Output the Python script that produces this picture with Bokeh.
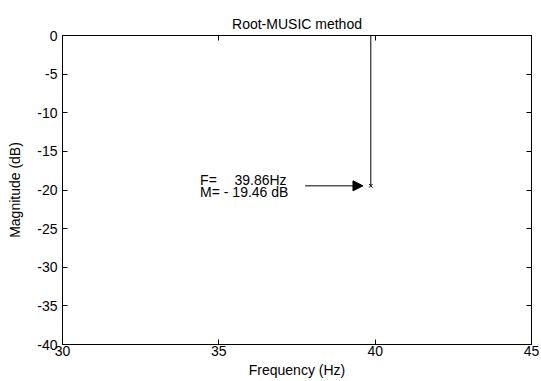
from bokeh.plotting import figure
from bokeh.models import (LinearAxis, FixedTicker, Range1d, Label, Arrow,
                          NormalHead, ColumnDataSource)
from bokeh.embed import file_html
from bokeh.resources import INLINE

# ---- data ----
peak_freq = [39.86]
peak_mag = [-19.46]
x_ticks = [30, 35, 40, 45]
y_ticks = [0, -5, -10, -15, -20, -25, -30, -35, -40]
x_tick_labels = ["30", "35", "40", "45"]
y_tick_labels = ["0", "-5", "-10", "-15", "-20", "-25", "-30", "-35", "-40"]
title_text = "Root-MUSIC method"
x_label = "Frequency (Hz)"
y_label = "Magnitude (dB)"
ann_f = ["F=", "39.86Hz"]
ann_m = "M= - 19.46 dB"

FONT = "Liberation Sans"

p = figure(width=541, height=381, output_backend="svg", toolbar_location=None,
           x_range=Range1d(30, 45), y_range=Range1d(-40, 0),
           min_border_left=62, min_border_right=10, min_border_top=35,
           min_border_bottom=37, title=title_text)

p.title.align = "center"
p.title.text_font = FONT
p.title.text_font_size = "14px"
p.title.text_font_style = "normal"
p.title.text_color = "black"
p.title.standoff = 7

p.xgrid.visible = False
p.ygrid.visible = False
p.outline_line_color = "black"
p.outline_line_width = 1
p.background_fill_color = "white"
p.border_fill_color = "white"


def style_axis(ax, ticks, labels, show_labels=True):
    ax.ticker = FixedTicker(ticks=ticks)
    ax.major_tick_in = 5
    ax.major_tick_out = 0
    ax.minor_tick_in = 0
    ax.minor_tick_out = 0
    ax.axis_line_color = "black"
    ax.major_tick_line_color = "black"
    ax.major_label_text_font = FONT
    ax.major_label_text_color = "black"
    if show_labels:
        ax.major_label_overrides = {t: l for t, l in zip(ticks, labels)}
        ax.major_label_text_font_size = "14px"
    else:
        ax.major_label_overrides = {t: "" for t in ticks}
        ax.major_label_text_font_size = "1px"
        ax.major_label_standoff = 0


xa = p.xaxis[0]
style_axis(xa, x_ticks, x_tick_labels)
xa.major_label_standoff = 1
xa.axis_label = x_label
xa.axis_label_text_font = FONT
xa.axis_label_text_font_size = "14px"
xa.axis_label_text_font_style = "normal"
xa.axis_label_text_color = "black"
xa.axis_label_standoff = 3

ya = p.yaxis[0]
style_axis(ya, y_ticks, y_tick_labels)
ya.major_label_standoff = 5
ya.axis_label = y_label
ya.axis_label_text_font = FONT
ya.axis_label_text_font_size = "14px"
ya.axis_label_text_font_style = "normal"
ya.axis_label_text_color = "black"
ya.axis_label_standoff = 11

top_ax = LinearAxis()
style_axis(top_ax, x_ticks, x_tick_labels, show_labels=False)
p.add_layout(top_ax, "above")
right_ax = LinearAxis()
style_axis(right_ax, y_ticks, y_tick_labels, show_labels=False)
p.add_layout(right_ax, "right")

# ---- stem + marker ----
src = ColumnDataSource(dict(f=peak_freq, m=peak_mag, z=[0] * len(peak_freq)))
p.segment(x0="f", y0="z", x1="f", y1="m", source=src, line_color="black",
          line_width=1)
p.scatter(x="f", y="m", source=src, marker="x", size=5, line_color="black",
          line_width=1)

# ---- annotation ----
lab_kw = dict(text_font=FONT, text_font_size="14px", text_baseline="middle",
              text_color="black")
p.add_layout(Label(x=34.4, y=-18.7, text=ann_f[0], **lab_kw))
p.add_layout(Label(x=35.5, y=-18.7, text=ann_f[1], **lab_kw))
p.add_layout(Label(x=34.4, y=-20.25, text=ann_m, **lab_kw))
p.add_layout(Arrow(x_start=peak_freq[0] - 2.1, y_start=peak_mag[0],
                   x_end=peak_freq[0] - 0.25, y_end=peak_mag[0],
                   line_color="black", line_width=1,
                   end=NormalHead(size=10, fill_color="black",
                                  line_color="black")))

open("out.html", "w").write(file_html(p, INLINE))
